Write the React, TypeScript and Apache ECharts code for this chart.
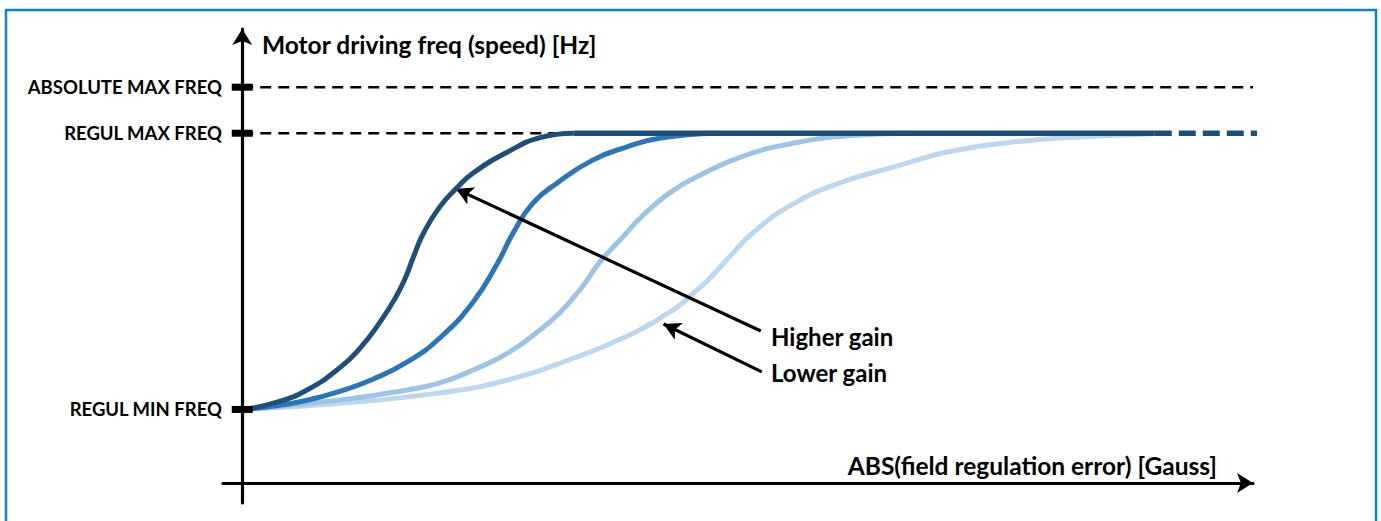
import React, { useEffect, useRef } from "react";
import * as echarts from "echarts";

// Y levels (arbitrary frequency units)
const REGUL_MIN = 20;
const REGUL_MAX = 95;
const ABS_MAX = 107.5;
const levelValues = [REGUL_MIN, REGUL_MAX, ABS_MAX];
const levelLabels = ["REGUL MIN FREQ", "REGUL MAX FREQ", "ABSOLUTE MAX FREQ"];

// Axis extents (error units on x, frequency units on y)
const X_MIN = -1.9;
const X_MAX = 99.8;
const Y_MIN = -5.4;
const Y_MAX = 123.3;

// Curves: highest gain (dark) to lowest gain (lightest)
const gain1 = [
  [0, 20], [3.1, 21.7], [6.4, 25.3], [9.7, 31.5], [11.65, 36.7], [13.6, 43.7],
  [15.1, 50.2], [16.1, 55.7], [16.9, 61.4], [17.9, 67.9], [19.5, 75.0],
  [21.2, 80.2], [22.8, 84.2], [26.2, 89.9], [29.4, 93.8], [32.7, 95],
];
const gain2 = [
  [0, 20], [3.1, 20.9], [6.4, 22.5], [9.7, 25.0], [12.9, 28.2], [16.3, 32.9],
  [19.5, 39.4], [22.8, 49.2], [25.2, 59.7], [26.8, 68.2], [28.7, 76.0],
  [31.1, 81.5], [34.6, 87.7], [38.0, 91.3], [41.3, 93.7], [46.7, 95],
];
const gain3 = [
  [0, 20], [9.7, 22.6], [16.3, 25.3], [19.5, 27.2], [22.8, 30.7], [26.2, 35.3],
  [29.4, 41.6], [31.4, 46.4], [33.4, 52.7], [35.3, 60.0], [37.3, 66.0],
  [39.6, 72.8], [42.3, 79.0], [45.2, 83.6], [49.2, 88.5], [54.4, 92.3],
  [61.0, 94.5], [65.9, 95],
];
const gain4 = [
  [0, 20], [9.7, 21.7], [19.5, 24.5], [26.2, 28.0], [32.7, 33.9], [37.6, 39.4],
  [39.8, 42.4], [41.6, 45.4], [43.2, 48.3], [44.7, 51.9], [46.2, 55.7],
  [48.2, 61.7], [50.4, 67.9], [54.4, 75.8], [59.3, 81.8], [64.3, 85.8],
  [69.6, 89.9], [76.1, 92.6], [82.7, 94.0], [89.3, 94.8], [90.1, 95],
];
const maxSolid = [[32.7, 95], [90.1, 95]];
const maxDashed = [[90.1, 95], [100.7, 95]];
const absMaxLine = [[0, ABS_MAX], [X_MAX, ABS_MAX]];
const regulMaxLine = [[0, REGUL_MAX], [32.7, REGUL_MAX]];

// Annotation arrows [from, to]
const higherArrow = [[51.2, 41.3], [21.1, 79.9]];
const lowerArrow = [[51.3, 30.2], [41.6, 43.2]];

const curveColors = ["#1f4e79", "#2e75b6", "#9dc3e6", "#bdd7ee"];
const FONT = "Lato, 'Open Sans', sans-serif";

export default function App() {
  const ref = useRef<HTMLDivElement>(null);
  useEffect(() => {
    document.body.style.margin = "0";
    const chart = echarts.init(ref.current!, null, { renderer: "svg" });
    const curves = [gain4, gain3, gain2, gain1];
    const colors = [curveColors[3], curveColors[2], curveColors[1], curveColors[0]];
    const option: any = {
      animation: false,
      backgroundColor: "#ffffff",
      grid: { left: 223, right: 128, top: 29, bottom: 18 },
      xAxis: {
        type: "value",
        min: X_MIN,
        max: X_MAX,
        axisLine: {
          onZero: true,
          lineStyle: { color: "#000", width: 3.2 },
          symbol: ["none", "arrow"],
          symbolSize: [15, 16],
        },
        axisTick: { show: false },
        axisLabel: { show: false },
        splitLine: { show: false },
      },
      yAxis: {
        type: "value",
        min: Y_MIN,
        max: Y_MAX,
        axisLine: {
          onZero: true,
          lineStyle: { color: "#000", width: 3.2 },
          symbol: ["none", "arrow"],
          symbolSize: [15, 16],
        },
        axisTick: { show: false },
        axisLabel: {
          customValues: levelValues,
          formatter: (v: number) => {
            const i = levelValues.findIndex((l) => Math.abs(l - v) < 1e-6);
            return i >= 0 ? levelLabels[i] : "";
          },
          margin: 1,
          color: "#000",
          fontFamily: FONT,
          fontWeight: "bold",
          fontSize: 18.5,
        },
        splitLine: { show: false },
      },
      series: [
        {
          type: "line",
          data: absMaxLine,
          symbol: "none",
          lineStyle: { color: "#000", width: 2.5, type: [11, 7] },
          z: 1,
          silent: true,
        },
        {
          type: "line",
          data: regulMaxLine,
          symbol: "none",
          lineStyle: { color: "#000", width: 2.5, type: [11, 7] },
          z: 1,
          silent: true,
        },
        ...curves.map((d, i) => ({
          type: "line",
          data: d,
          symbol: "none",
          smooth: 0.5,
          lineStyle: { color: colors[i], width: 5 },
          z: 2 + i,
          silent: true,
        })),
        {
          type: "line",
          data: maxSolid,
          symbol: "none",
          lineStyle: { color: curveColors[0], width: 5.5 },
          z: 7,
          silent: true,
        },
        {
          type: "line",
          data: maxDashed,
          symbol: "none",
          clip: false,
          lineStyle: { color: curveColors[0], width: 5.5, type: [17, 7], cap: "butt" },
          z: 7,
          silent: true,
          markLine: {
            silent: true,
            symbol: ["none", "arrow"],
            symbolSize: [14, 17],
            label: { show: false },
            lineStyle: { color: "#000", width: 3.2, type: "solid" },
            data: [
              [{ coord: higherArrow[0] }, { coord: higherArrow[1] }],
              [{ coord: lowerArrow[0] }, { coord: lowerArrow[1] }],
            ],
          },
        },
        {
          type: "scatter",
          data: levelValues.map((v) => [0, v]),
          symbol: "rect",
          symbolSize: [21, 7],
          itemStyle: { color: "#000", opacity: 1 },
          z: 10,
          silent: true,
        },
      ],
      graphic: [
        {
          type: "rect",
          shape: { x: 6, y: 10, width: 1370, height: 540 },
          style: { fill: "none", stroke: "#1182c5", lineWidth: 2.5 },
          silent: true,
        },
        {
          type: "text",
          style: {
            text: "Motor driving freq (speed) [Hz]",
            x: 262, y: 44,
            fill: "#000",
            font: `bold 24.5px ${FONT}`,
            textVerticalAlign: "middle",
          },
        },
        {
          type: "text",
          style: {
            text: "ABS(field regulation error) [Gauss]",
            x: 1217, y: 465,
            fill: "#000",
            font: `bold 24.5px ${FONT}`,
            textAlign: "right",
            textVerticalAlign: "middle",
          },
        },
        {
          type: "text",
          style: {
            text: "Higher gain",
            x: 771, y: 336,
            fill: "#000",
            font: `bold 24px ${FONT}`,
            textVerticalAlign: "middle",
          },
        },
        {
          type: "text",
          style: {
            text: "Lower gain",
            x: 771, y: 372,
            fill: "#000",
            font: `bold 24px ${FONT}`,
            textVerticalAlign: "middle",
          },
        },
      ],
    };
    chart.setOption(option);
    return () => chart.dispose();
  }, []);
  return <div ref={ref} style={{ width: 1381, height: 521 }} />;
}
